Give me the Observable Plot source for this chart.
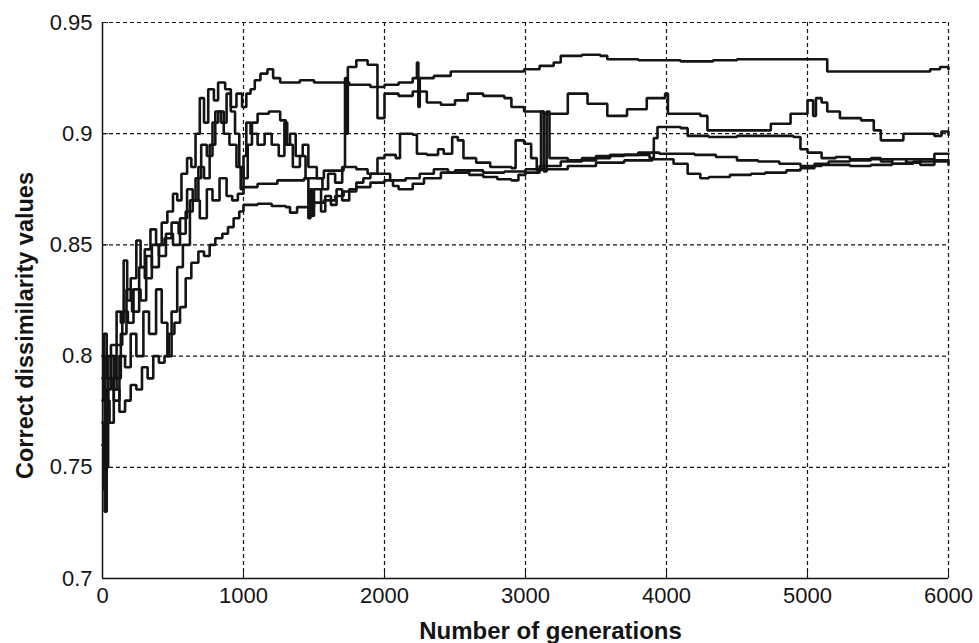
<!DOCTYPE html>
<html>
<head>
<meta charset="utf-8">
<script src="https://cdn.jsdelivr.net/npm/d3@7"></script>
<script src="https://cdn.jsdelivr.net/npm/@observablehq/plot@0.6"></script>
<style>
  html, body { margin: 0; padding: 0; background: #fff; }
  #chart { width: 979px; height: 643px; }
</style>
</head>
<body>
<div id="chart"></div>
<script>
const xTicks = [0, 1000, 2000, 3000, 4000, 5000, 6000];
const xTickLabels = ["0", "1000", "2000", "3000", "4000", "5000", "6000"];
const yTicks = [0.7, 0.75, 0.8, 0.85, 0.9, 0.95];
const yTickLabels = ["0.7", "0.75", "0.8", "0.85", "0.9", "0.95"];
const xTitle = "Number of generations";
const yTitle = "Correct dissimilarity values";

const seriesA = [[0,0.78],[10,0.81],[30,0.79],[60,0.805],[100,0.82],[130,0.815],[150,0.843],[175,0.825],[200,0.835],[240,0.852],[270,0.84],[300,0.848],[340,0.857],[380,0.85],[420,0.86],[460,0.865],[500,0.873],[530,0.87],[560,0.882],[600,0.889],[630,0.885],[660,0.9],[690,0.916],[720,0.905],[750,0.92],[790,0.915],[820,0.923],[870,0.92],[910,0.912],[950,0.918],[990,0.912],[1020,0.918],[1050,0.92],[1080,0.924],[1120,0.927],[1170,0.929],[1210,0.925],[1260,0.923],[1400,0.924],[1500,0.923],[1650,0.923],[1750,0.922],[1900,0.921],[2000,0.922],[2100,0.923],[2200,0.925],[2230,0.932],[2240,0.912],[2250,0.925],[2350,0.926],[2470,0.928],[2700,0.928],[2990,0.929],[3100,0.9305],[3200,0.932],[3250,0.935],[3400,0.9355],[3530,0.935],[3580,0.9335],[3800,0.933],[3990,0.933],[4100,0.9325],[4330,0.933],[4500,0.9335],[5110,0.9335],[5140,0.928],[5500,0.928],[5870,0.929],[5940,0.93],[6000,0.929]];

const seriesB = [[0,0.76],[15,0.73],[30,0.785],[60,0.8],[90,0.79],[130,0.81],[170,0.83],[210,0.82],[260,0.84],[300,0.835],[350,0.85],[400,0.845],[450,0.855],[500,0.85],[550,0.862],[600,0.875],[640,0.87],[680,0.885],[720,0.88],[760,0.895],[800,0.91],[840,0.905],[880,0.918],[910,0.91],[940,0.9],[970,0.885],[1000,0.88],[1030,0.895],[1060,0.905],[1100,0.909],[1180,0.91],[1260,0.906],[1300,0.895],[1330,0.9],[1370,0.89],[1420,0.895],[1460,0.885],[1520,0.88],[1560,0.875],[1600,0.882],[1650,0.878],[1700,0.885],[1720,0.925],[1730,0.9],[1740,0.93],[1800,0.933],[1880,0.931],[1950,0.907],[2000,0.918],[2100,0.917],[2200,0.919],[2300,0.914],[2400,0.913],[2500,0.915],[2590,0.918],[2700,0.917],[2850,0.916],[2900,0.912],[2990,0.91],[3130,0.909],[3300,0.918],[3440,0.9135],[3580,0.908],[3720,0.911],[3860,0.916],[3990,0.918],[4010,0.909],[4240,0.908],[4290,0.9015],[4500,0.9015],[4740,0.9045],[4880,0.909],[5000,0.915],[5040,0.908],[5060,0.916],[5100,0.914],[5140,0.91],[5230,0.907],[5380,0.906],[5470,0.9015],[5520,0.897],[5680,0.9],[5900,0.899],[5950,0.901],[6000,0.8995]];

const seriesC = [[0,0.79],[20,0.75],[40,0.8],[80,0.78],[120,0.8],[160,0.795],[200,0.81],[240,0.8],[290,0.82],[330,0.81],[380,0.83],[420,0.815],[460,0.8],[490,0.82],[530,0.84],[570,0.85],[620,0.87],[660,0.88],[700,0.895],[740,0.89],[780,0.905],[820,0.91],[860,0.9],[900,0.895],[950,0.885],[980,0.875],[1000,0.89],[1020,0.905],[1050,0.9],[1100,0.895],[1150,0.9],[1200,0.895],[1250,0.89],[1290,0.905],[1310,0.895],[1350,0.885],[1400,0.89],[1440,0.88],[1460,0.862],[1475,0.875],[1490,0.863],[1500,0.875],[1550,0.865],[1580,0.872],[1620,0.868],[1660,0.875],[1700,0.87],[1750,0.875],[1800,0.878],[1850,0.88],[1900,0.882],[1950,0.889],[2000,0.8905],[2080,0.889],[2110,0.9],[2200,0.8995],[2230,0.891],[2300,0.8905],[2380,0.893],[2420,0.891],[2480,0.8985],[2520,0.897],[2560,0.889],[2650,0.887],[2750,0.885],[2900,0.8845],[2930,0.897],[2990,0.8955],[3040,0.889],[3080,0.8835],[3110,0.91],[3130,0.883],[3150,0.91],[3170,0.889],[3300,0.888],[3500,0.89],[3700,0.8905],[3880,0.889],[3910,0.898],[3936,0.903],[4100,0.9025],[4150,0.899],[4300,0.8985],[4500,0.899],[4700,0.899],[4900,0.8985],[4950,0.893],[5000,0.8915],[5100,0.889],[5200,0.8895],[5300,0.8885],[5450,0.889],[5520,0.8875],[5600,0.8885],[5700,0.887],[5800,0.8885],[5900,0.891],[6000,0.891]];

const seriesD = [[0,0.8],[15,0.77],[40,0.79],[70,0.785],[100,0.805],[140,0.82],[180,0.815],[220,0.83],[270,0.825],[310,0.845],[350,0.84],[400,0.85],[440,0.853],[490,0.86],[540,0.855],[590,0.865],[640,0.87],[690,0.862],[740,0.875],[780,0.87],[830,0.88],[880,0.872],[920,0.87],[960,0.873],[1000,0.876],[1100,0.8775],[1240,0.879],[1430,0.88],[1570,0.8834],[1710,0.885],[1800,0.884],[1880,0.882],[2040,0.879],[2150,0.88],[2250,0.882],[2350,0.884],[2450,0.8825],[2600,0.8835],[2700,0.8825],[2850,0.883],[3000,0.884],[3100,0.8855],[3250,0.8875],[3400,0.889],[3600,0.8905],[3800,0.8915],[3950,0.891],[4100,0.891],[4200,0.8905],[4350,0.8895],[4500,0.888],[4650,0.8875],[4800,0.8865],[4950,0.8855],[5100,0.886],[5300,0.8855],[5450,0.886],[5600,0.8865],[5750,0.8875],[5900,0.888],[6000,0.888]];

const seriesE = [[0,0.77],[10,0.74],[25,0.78],[50,0.77],[80,0.785],[120,0.775],[160,0.78],[200,0.787],[240,0.785],[280,0.795],[320,0.79],[360,0.8],[400,0.797],[440,0.8],[470,0.81],[510,0.815],[550,0.822],[590,0.835],[630,0.842],[680,0.847],[720,0.845],[760,0.85],[800,0.853],[850,0.855],[890,0.858],[930,0.862],[970,0.865],[1000,0.868],[1100,0.8685],[1200,0.8675],[1300,0.867],[1330,0.8645],[1380,0.867],[1500,0.869],[1570,0.87],[1650,0.872],[1710,0.874],[1800,0.876],[1900,0.878],[2000,0.879],[2060,0.8765],[2100,0.875],[2200,0.8775],[2280,0.88],[2400,0.8825],[2500,0.8835],[2600,0.8815],[2700,0.8805],[2800,0.8795],[2900,0.879],[2950,0.8815],[3000,0.8825],[3100,0.884],[3300,0.8855],[3500,0.887],[3700,0.888],[3900,0.8885],[4050,0.8865],[4150,0.882],[4240,0.88],[4300,0.8805],[4450,0.8815],[4600,0.882],[4700,0.8825],[4850,0.8835],[4950,0.8845],[5050,0.8865],[5150,0.8875],[5300,0.888],[5450,0.8885],[5600,0.8865],[5700,0.8885],[5800,0.886],[5900,0.8875],[6000,0.886]];

const seriesList = [seriesA, seriesB, seriesC, seriesD, seriesE];
const rows = seriesList.flatMap((s, k) => s.map(([g, v]) => ({run: k, gen: g, val: v})));

const ink = "#141414";
const font = "'Liberation Sans', Arial, Helvetica, sans-serif";

const chart = Plot.plot({
  width: 979,
  height: 643,
  marginLeft: 102,
  marginRight: 31,
  marginTop: 22,
  marginBottom: 65,
  style: {fontFamily: font, background: "#fff", color: ink},
  x: {domain: [0, 6000], label: null},
  y: {domain: [0.7, 0.95], label: null},
  marks: [
    Plot.ruleY(yTicks.filter(d => d > 0.7), {stroke: ink, strokeWidth: 1.2, strokeDasharray: "4,3"}),
    Plot.ruleX(xTicks.filter(d => d > 0), {stroke: ink, strokeWidth: 1.2, strokeDasharray: "4,3"}),
    Plot.line(rows, {x: "gen", y: "val", z: "run", curve: "step-after", stroke: ink, strokeWidth: 2.6, strokeLinejoin: "miter"}),
    Plot.ruleX([0], {stroke: ink, strokeWidth: 1.5}),
    Plot.ruleY([0.7], {stroke: ink, strokeWidth: 1.5}),
    Plot.axisX(xTicks, {anchor: "bottom", tickSize: -6, tickPadding: 15, fontSize: 22, stroke: ink, tickFormat: (d, i) => xTickLabels[i], label: null}),
    Plot.axisY(yTicks, {anchor: "left", tickSize: -6, tickPadding: 16, fontSize: 22, stroke: ink, tickFormat: (d, i) => yTickLabels[i], label: null}),
    Plot.text([xTitle], {frameAnchor: "bottom", text: d => d, textAnchor: "middle", lineAnchor: "middle", dx: 25, dy: 53, fontSize: 24, fontWeight: "bold", fill: ink}),
    Plot.text([yTitle], {frameAnchor: "left", text: d => d, textAnchor: "middle", lineAnchor: "middle", rotate: -90, dx: -77, dy: 25, fontSize: 23.5, fontWeight: "bold", fill: ink})
  ]
});
document.getElementById("chart").appendChild(chart);
</script>
</body>
</html>
